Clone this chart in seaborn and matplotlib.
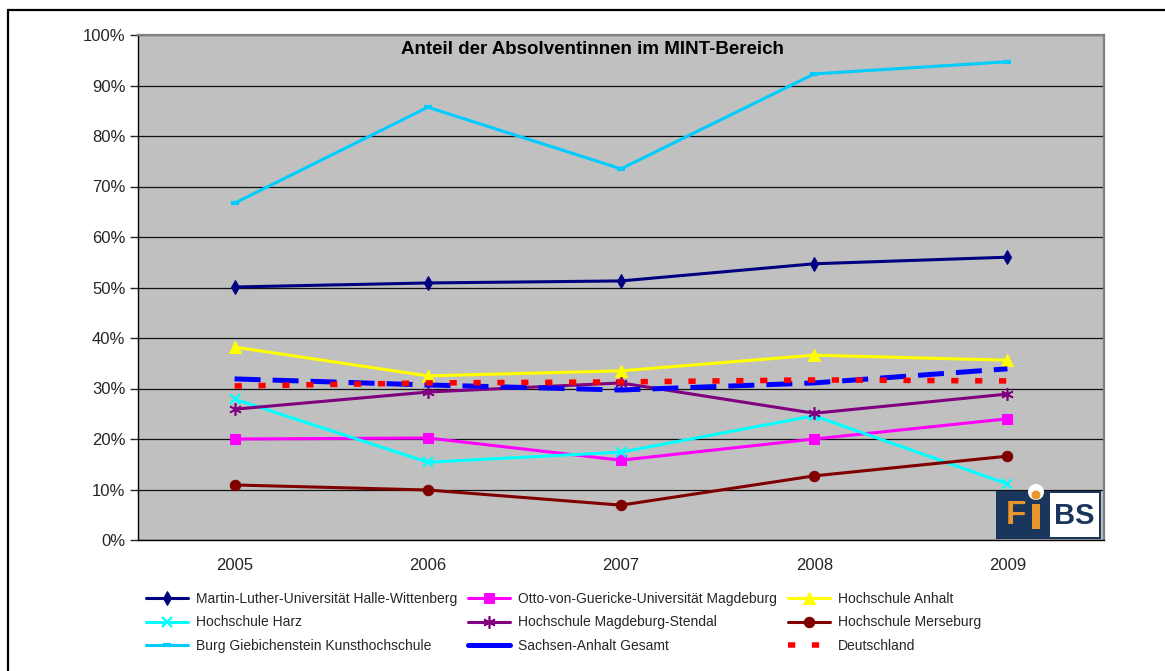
import matplotlib.pyplot as plt
import matplotlib.transforms as mtransforms
import seaborn as sns
from matplotlib.patches import Rectangle, Circle
from matplotlib.lines import Line2D
from matplotlib.ticker import PercentFormatter

# === Daten (Anteil in %) ===
years = ["2005", "2006", "2007", "2008", "2009"]
martin_luther = [50.1, 50.9, 51.3, 54.7, 56.0]
otto_guericke = [20.0, 20.2, 15.8, 20.0, 24.0]
hs_anhalt = [38.2, 32.5, 33.5, 36.6, 35.6]
hs_harz = [27.9, 15.4, 17.4, 24.6, 11.1]
hs_magdeburg_stendal = [25.9, 29.3, 31.1, 25.1, 28.9]
hs_merseburg = [10.9, 9.9, 6.9, 12.7, 16.6]
burg_giebichenstein = [66.7, 85.7, 73.5, 92.3, 94.7]
sachsen_anhalt = [31.9, 30.7, 29.7, 31.1, 33.9]
deutschland = [30.5, 31.1, 31.3, 31.7, 31.5]

labels = [
    "Martin-Luther-Universität Halle-Wittenberg",
    "Otto-von-Guericke-Universität Magdeburg",
    "Hochschule Anhalt",
    "Hochschule Harz",
    "Hochschule Magdeburg-Stendal",
    "Hochschule Merseburg",
    "Burg Giebichenstein Kunsthochschule",
    "Sachsen-Anhalt Gesamt",
    "Deutschland",
]
series = [martin_luther, otto_guericke, hs_anhalt, hs_harz, hs_magdeburg_stendal,
          hs_merseburg, burg_giebichenstein, sachsen_anhalt, deutschland]

# === Stil pro Linie ===
styles = [
    dict(color="#000080", marker="d", ms=7, mec="#000080", lw=2.2),
    dict(color="#FF00FF", marker="s", ms=7.5, mec="#FF00FF", lw=2.2),
    dict(color="#FFFF00", marker="^", ms=8, mec="#FFFF00", lw=2.2),
    dict(color="#00FFFF", marker="x", ms=7, mec="#00FFFF", mew=1.6, lw=2.2),
    dict(color="#800080", marker=(6, 2, 0), ms=9, mec="#800080", mew=1.2, lw=2.2),
    dict(color="#800000", marker="o", ms=7.5, mec="#800000", lw=2.2),
    dict(color="#00CCFF", marker="_", ms=6, mec="#00CCFF", mew=3, lw=2.2),
    dict(color="#0000FF", marker=None, lw=3.6, ls=(0, (5.2, 2.4))),
    dict(color="#FF0000", marker=None, lw=4, ls=(0, (1.3, 3.0))),
]

W, H = 1165, 671
sns.set_style("white")
plt.rcParams["font.family"] = ["Liberation Sans", "DejaVu Sans"]

fig = plt.figure(figsize=(W / 100, H / 100), dpi=100)
ax = fig.add_axes([138 / W, 131 / H, (1104 - 138) / W, (540 - 35) / H])
ax.set_facecolor("#C0C0C0")

for vals, lab, st in zip(series, labels, styles):
    st = dict(st)
    ls = st.pop("ls", "-")
    sns.lineplot(x=years, y=vals, ax=ax, label=lab, linestyle=ls,
                 legend=False, zorder=3, **st)

# === Achsen ===
ax.set_xlim(-0.5, 4.5)
ax.set_ylim(0, 100)
ax.set_xticks(range(len(years)))
ax.set_xticklabels(years)
ax.set_xticks([i - 0.5 for i in range(len(years) + 1)], minor=True)
ax.tick_params(axis="x", which="major", length=0, pad=13, labelsize=12)
ax.tick_params(axis="x", which="minor", length=6, width=1, direction="out", color="black")
ax.set_yticks(range(0, 101, 10))
ax.yaxis.set_major_formatter(PercentFormatter(100, decimals=0))
ax.tick_params(axis="y", length=6, width=1, direction="out", pad=3, labelsize=12, left=True)
ax.set_xlabel("")
ax.set_ylabel("")
ax.yaxis.grid(True, color="#111111", lw=0.9)
ax.set_axisbelow(True)
for side in ["left", "bottom"]:
    ax.spines[side].set_color("black")
    ax.spines[side].set_linewidth(1)
for side in ["top", "right"]:
    ax.spines[side].set_color("#808080")
    ax.spines[side].set_linewidth(1.6)

# === Titel ===
fig.text(592 / W, 1 - 50 / H, "Anteil der Absolventinnen im MINT-Bereich",
         ha="center", va="center", fontsize=13.5, fontweight="bold", color="black")

# === Legende (zeilenweise wie im Original) ===
handles, labs = ax.get_legend_handles_labels()
order = [0, 3, 6, 1, 4, 7, 2, 5, 8]
leg = ax.legend([handles[i] for i in order], [labs[i] for i in order], ncol=3, loc="upper left",
                bbox_to_anchor=(146 / W, 1 - 592 / H), bbox_transform=fig.transFigure,
                frameon=False, fontsize=10, handlelength=3.0, handletextpad=0.6,
                columnspacing=0.8, labelspacing=0.68, borderpad=0, borderaxespad=0)
# Sachsen-Anhalt: im Original als durchgehender Balken
leg.legend_handles[order.index(7)].set_linestyle("-")

# === Rahmen und Logo (Pixelkoordinaten, Ursprung oben links) ===
px = mtransforms.Affine2D().scale(1 / W, -1 / H).translate(0, 1) + fig.transFigure
fig.add_artist(Line2D([8, 8], [10, H], transform=px, color="black", lw=1.6))
fig.add_artist(Line2D([8, W], [10, 10], transform=px, color="black", lw=1.6))

navy, orange = "#1B365D", "#E8952C"
fig.add_artist(Rectangle((996, 491), 105, 48, transform=px, fc=navy, ec="none", zorder=5))
fig.add_artist(Rectangle((1050, 493), 49, 44, transform=px, fc="white", ec="none", zorder=6))
fig.add_artist(Circle((1036, 492), 8, transform=px, fc="white", ec="none", zorder=6))
fig.add_artist(Circle((1036, 495), 4.5, transform=px, fc=orange, ec="none", zorder=7))
fig.add_artist(Rectangle((1032, 504), 8, 25, transform=px, fc=orange, ec="none", zorder=7))
fig.text(1016 / W, 1 - 515.5 / H, "F", ha="center", va="center", fontsize=24,
         fontweight="bold", color=orange, zorder=7)
fig.text(1074 / W, 1 - 515.5 / H, "BS", ha="center", va="center", fontsize=21,
         fontweight="bold", color=navy, zorder=7)

fig.savefig("out.png", dpi=100)
